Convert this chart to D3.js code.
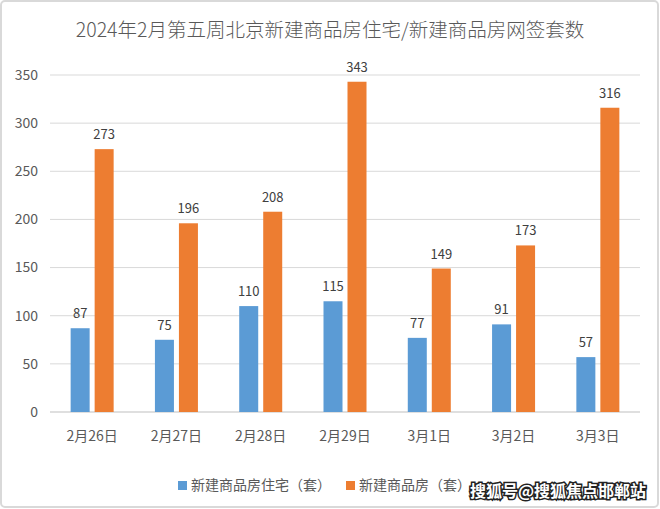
<!DOCTYPE html>
<html>
<head>
<meta charset="utf-8">
<style>
  body { margin: 0; background: #fff; }
  text { font-family: "Noto Sans CJK SC", "Open Sans", sans-serif; }
</style>
</head>
<body>
<svg width="660" height="509"></svg>
<script src="https://cdnjs.cloudflare.com/ajax/libs/d3/7.8.5/d3.min.js"></script>
<script>
// chart data
var days = ["2月26日", "2月27日", "2月28日", "2月29日", "3月1日", "3月2日", "3月3日"];
var residential = [87, 75, 110, 115, 77, 91, 57];
var allHousing = [273, 196, 208, 343, 149, 173, 316];
var seriesNames = ["新建商品房住宅（套）", "新建商品房（套）"];
var yTicks = [0, 50, 100, 150, 200, 250, 300, 350];

var svg = d3.select("svg");
var colors = ["#5B9BD5", "#ED7D31"];

// outer frame
svg.append("rect")
  .attr("x", 1).attr("y", 1)
  .attr("width", 657).attr("height", 506)
  .attr("rx", 4)
  .attr("fill", "#fff")
  .attr("stroke", "#d9d9d9")
  .attr("stroke-width", 2);

svg.append("text")
  .attr("x", 330).attr("y", 37)
  .attr("text-anchor", "middle")
  .attr("font-size", 19.5)
  .attr("font-weight", 300)
  .attr("fill", "#595959")
  .text("2024年2月第五周北京新建商品房住宅/新建商品房网签套数");

var plotL = 50, plotR = 640, plotT = 75, plotB = 412;

var x = d3.scaleBand().domain(days).range([plotL, plotR]);
var y = d3.scaleLinear().domain([0, 350]).range([plotB, plotT]);

// grid
svg.append("g")
  .selectAll("line")
  .data(yTicks)
  .enter().append("line")
  .attr("x1", plotL).attr("x2", plotR)
  .attr("y1", function(d) { return y(d); })
  .attr("y2", function(d) { return y(d); })
  .attr("stroke", function(d) { return d === 0 ? "#bfbfbf" : "#d9d9d9"; })
  .attr("stroke-width", 1);

// y labels
svg.append("g")
  .selectAll("text")
  .data(yTicks)
  .enter().append("text")
  .attr("x", 38)
  .attr("y", function(d) { return y(d); })
  .attr("dy", "0.35em")
  .attr("text-anchor", "end")
  .attr("font-size", 14)
  .attr("fill", "#595959")
  .text(function(d) { return d; });

// x labels
svg.append("g")
  .selectAll("text")
  .data(days)
  .enter().append("text")
  .attr("x", function(d) { return x(d) + x.bandwidth() / 2; })
  .attr("y", 441)
  .attr("text-anchor", "middle")
  .attr("font-size", 14)
  .attr("fill", "#595959")
  .text(function(d) { return d; });

var barW = 19, gap = 5;
var series = [residential, allHousing];

series.forEach(function(vals, si) {
  var off = si === 0 ? -gap / 2 - barW : gap / 2;
  var g = svg.append("g");
  g.selectAll("rect")
    .data(vals)
    .enter().append("rect")
    .attr("x", function(d, i) { return x(days[i]) + x.bandwidth() / 2 + off; })
    .attr("y", function(d) { return y(d); })
    .attr("width", barW)
    .attr("height", function(d) { return y(0) - y(d); })
    .attr("fill", colors[si]);
  g.selectAll("text")
    .data(vals)
    .enter().append("text")
    .attr("x", function(d, i) { return x(days[i]) + x.bandwidth() / 2 + off + barW / 2; })
    .attr("y", function(d) { return y(d) - 10; })
    .attr("text-anchor", "middle")
    .attr("font-size", 13)
    .attr("fill", "#404040")
    .text(function(d) { return d; });
});

// legend
var legendX = [178, 346];
seriesNames.forEach(function(name, i) {
  svg.append("rect")
    .attr("x", legendX[i]).attr("y", 481)
    .attr("width", 9).attr("height", 9)
    .attr("fill", colors[i]);
  svg.append("text")
    .attr("x", legendX[i] + 13).attr("y", 490)
    .attr("font-size", 14)
    .attr("fill", "#595959")
    .text(name);
});

// watermark
svg.append("text")
  .attr("x", 646).attr("y", 497)
  .attr("text-anchor", "end")
  .attr("font-size", 16)
  .attr("font-weight", "bold")
  .attr("fill", "#fff")
  .attr("stroke", "#222")
  .attr("stroke-width", 3)
  .attr("paint-order", "stroke")
  .text("搜狐号@搜狐焦点邯郸站");
</script>
</body>
</html>
